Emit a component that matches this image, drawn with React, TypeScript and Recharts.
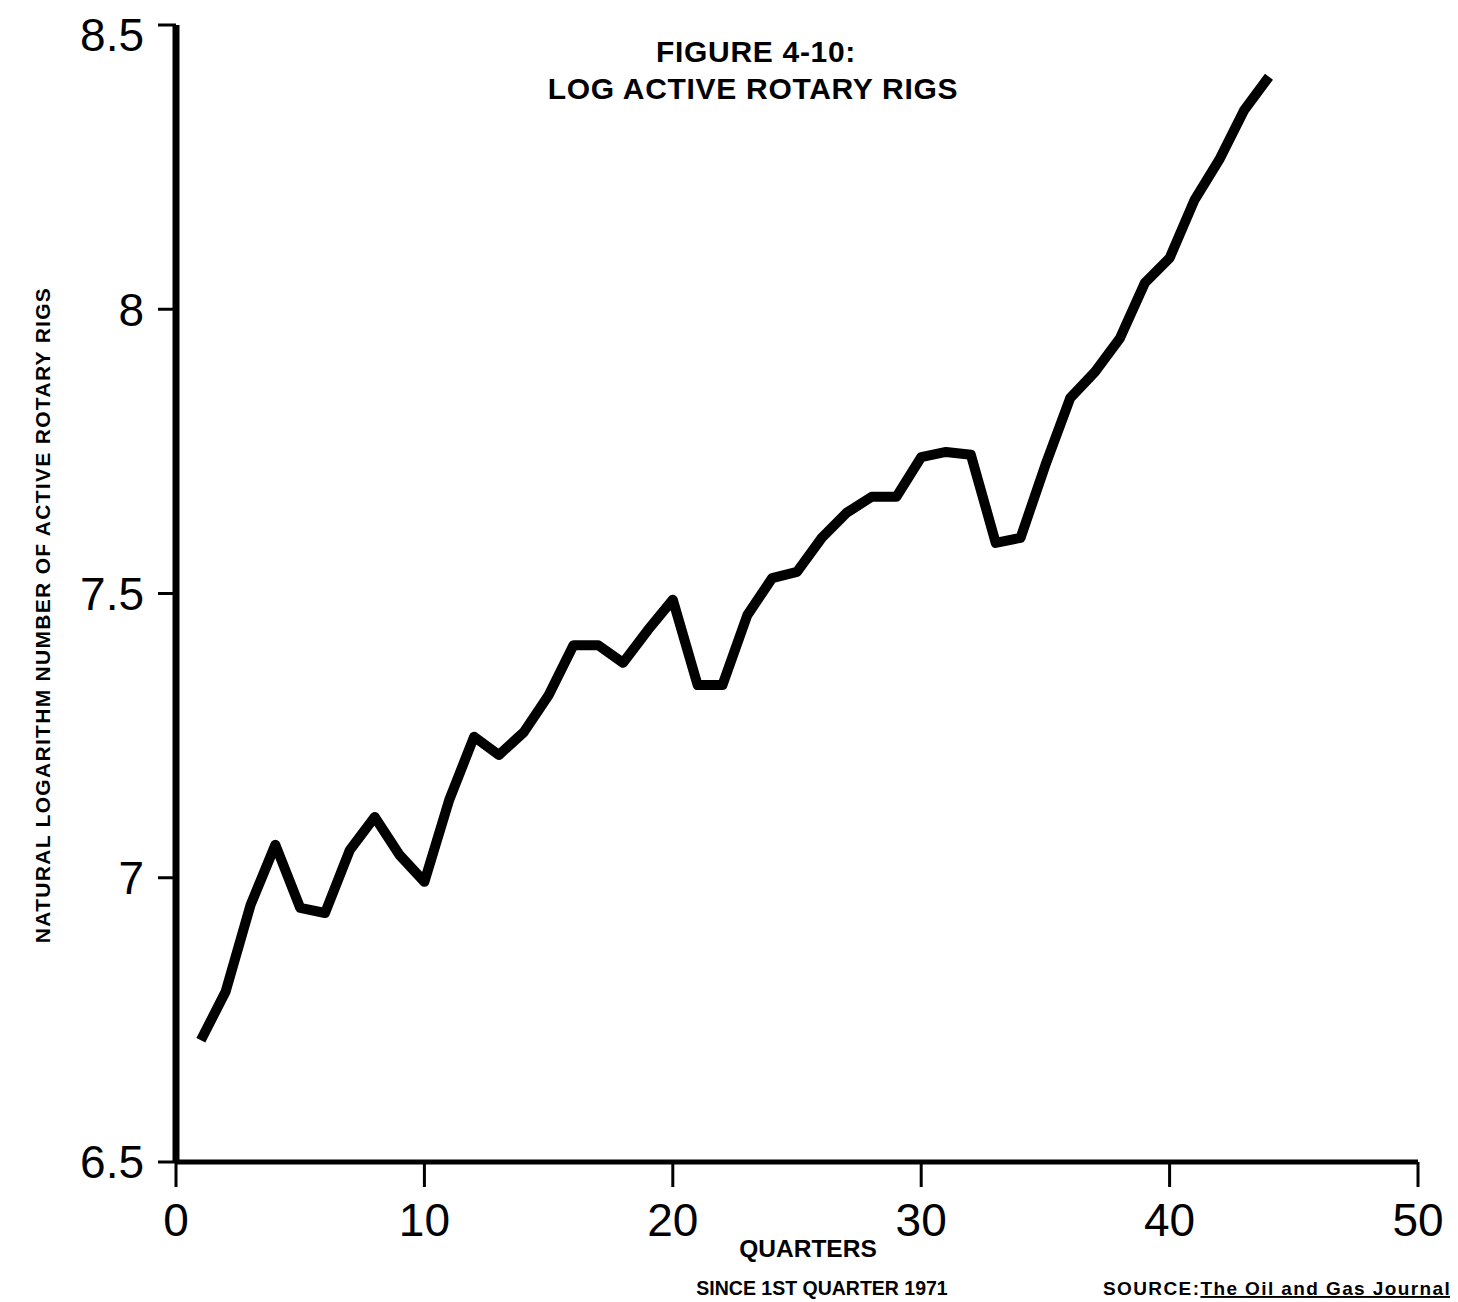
import React from 'react';
import {Customized, Line, LineChart, XAxis, YAxis} from 'recharts';

// natural log of active rotary rigs, one value per quarter since Q1 1971
const quarters = [
    1, 2, 3, 4, 5, 6, 7, 8, 9, 10, 11, 12, 13, 14, 15, 16, 17, 18, 19, 20, 21, 22,
    23, 24, 25, 26, 27, 28, 29, 30, 31, 32, 33, 34, 35, 36, 37, 38, 39, 40, 41, 42, 43, 44,
];
const logRigs = [
    6.714, 6.80, 6.952, 7.058, 6.947, 6.938, 7.049, 7.107, 7.04, 6.993, 7.137, 7.248,
    7.216, 7.256, 7.321, 7.409, 7.409, 7.378, 7.436, 7.489, 7.339, 7.339, 7.462, 7.527,
    7.538, 7.598, 7.642, 7.67, 7.67, 7.74, 7.749, 7.744, 7.589, 7.598, 7.726, 7.844,
    7.89, 7.949, 8.046, 8.09, 8.192, 8.263, 8.35, 8.409,
];
const xTicks = [0, 10, 20, 30, 40, 50];
const yTicks = [6.5, 7, 7.5, 8, 8.5];

const data = quarters.map((q, i) => ({quarter: q, value: logRigs[i]}));

const FONT = '"Liberation Sans", Arial, Helvetica, sans-serif';

function Annotations() {
    return (
        <g fontFamily={FONT} fill="#000">
            <text x={748} y={54} textAnchor="middle" fontSize={30} fontWeight="bold" letterSpacing={0.7}>
                FIGURE 4-10:
            </text>
            <text x={745} y={91} textAnchor="middle" fontSize={30} fontWeight="bold" letterSpacing={0.7}>
                LOG ACTIVE ROTARY RIGS
            </text>
            <text
                transform="translate(34, 607) rotate(-90)"
                textAnchor="middle"
                fontSize={21}
                fontWeight="bold"
                letterSpacing={1.3}
                dominantBaseline="central"
            >
                NATURAL LOGARITHM NUMBER OF ACTIVE ROTARY RIGS
            </text>
            <text x={800} y={1249} textAnchor="middle" fontSize={24.5} fontWeight="bold">QUARTERS</text>
            <text x={814} y={1287} textAnchor="middle" fontSize={19.5} fontWeight="bold">SINCE 1ST QUARTER 1971</text>
            <text x={1095} y={1287} fontSize={19} fontWeight="bold" letterSpacing={1.4}>
                SOURCE:
                <tspan style={{textDecoration: 'underline'}}>The Oil and Gas Journal</tspan>
            </text>
        </g>
    );
}

export default function App() {
    return (
        <LineChart
            width={1450}
            height={1294}
            data={data}
            margin={{top: 17, right: 40, left: 0, bottom: 80}}
        >
            <XAxis
                dataKey="quarter"
                type="number"
                domain={[0, 50]}
                ticks={xTicks}
                height={60}
                axisLine={{stroke: '#000', strokeWidth: 5}}
                tickLine={{stroke: '#000', strokeWidth: 3}}
                tickSize={25}
                tickMargin={16}
                tick={{fill: '#000', fontSize: 46, fontFamily: FONT}}
            />
            <YAxis
                type="number"
                domain={[6.5, 8.5]}
                ticks={yTicks}
                width={168}
                axisLine={{stroke: '#000', strokeWidth: 7}}
                tickLine={{stroke: '#000', strokeWidth: 3}}
                tickSize={18}
                tickMargin={14}
                tick={{fill: '#000', fontSize: 46, fontFamily: FONT}}
            />
            <Line
                type="linear"
                dataKey="value"
                stroke="#000"
                strokeWidth={10}
                strokeLinejoin="round"
                dot={false}
                isAnimationActive={false}
            />
            <Customized component={Annotations} />
        </LineChart>
    );
}
